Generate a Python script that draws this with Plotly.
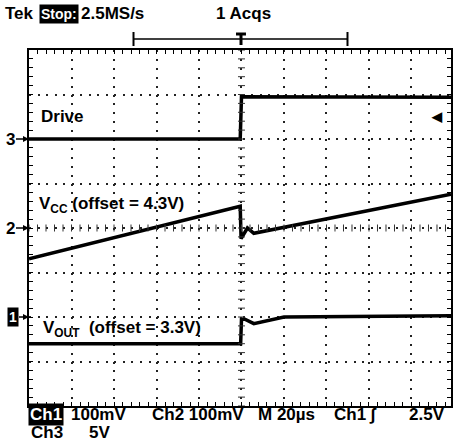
"""
Captura de osciloscopio: Drive, VCC y VOUT durante un escalón de carga
"""

import numpy as np
import plotly.graph_objects as go

# Datos (tiempo en µs, amplitud en divisiones)
drive_t = [0, 99.4, 100.0, 102.0, 198.6]
drive_v = [2.0, 2.0, 2.95, 2.95, 2.94]

vcc_t = [0, 99.4, 99.8, 102.8, 105.8, 198.6]
vcc_v = [-0.69, 0.49, -0.24, 0.0, -0.12, 0.76]

vout_t = [0, 99.6, 100.0, 101.6, 105.8, 120.0, 198.6]
vout_v = [-2.60, -2.60, -2.05, -2.05, -2.15, -2.0, -1.97]

# Marcadores de canal (nivel en divisiones)
canales = ["3", "2", "1"]
canal_nivel = [2.0, 0.0, -2.0]

# Geometría de la figura
ANCHO, ALTO = 453, 442
M_IZQ, M_SUP, M_INF = 29, 50, 36
W_PLOT = ANCHO - M_IZQ
H_PLOT = ALTO - M_SUP - M_INF
X_MAX = 20 * W_PLOT / 42.7

FUENTE = dict(family="Liberation Sans", size=17, color="black", weight="bold")


def px(x):
    return (x - M_IZQ) / W_PLOT


def py(y):
    return 1 - (y - M_SUP) / H_PLOT


fig = go.Figure()

for t, v in [(drive_t, drive_v), (vcc_t, vcc_v), (vout_t, vout_v)]:
    fig.add_trace(go.Scatter(
        x=t, y=v, mode="lines",
        line=dict(color="black", width=3.5),
        showlegend=False, hoverinfo="skip"
    ))

# Marcas finas sobre los ejes centrales de la retícula
marcas_y = np.arange(-4, 4.001, 0.2)
marcas_x = np.arange(0, X_MAX, 4)
fig.add_trace(go.Scatter(
    x=[100] * len(marcas_y), y=marcas_y, mode="markers",
    marker=dict(symbol="line-ew", size=5, line=dict(color="#333", width=1)),
    showlegend=False, hoverinfo="skip"
))
fig.add_trace(go.Scatter(
    x=marcas_x, y=[0] * len(marcas_x), mode="markers",
    marker=dict(symbol="line-ns", size=5, line=dict(color="#333", width=1)),
    showlegend=False, hoverinfo="skip"
))

anotaciones = []


def texto(s, x, y, fondo=None, color="black", tam=17):
    anotaciones.append(dict(
        text=s, x=px(x), y=py(y), xref="paper", yref="paper",
        xanchor="left", yanchor="middle", showarrow=False,
        font=dict(FUENTE, color=color, size=tam),
        bgcolor=fondo, borderpad=1 if fondo else 0
    ))


# Cabecera
texto("Tek", 4, 14)
texto("Stop:", 39, 14, fondo="black", color="white", tam=14)
texto("2.5MS/s", 80, 14)
texto("1 Acqs", 216, 14)

# Pie
texto("Ch1", 28, 415, fondo="black", color="white")
texto("100mV", 70, 415)
texto("Ch2 100mV", 152, 415)
texto("M 20µs", 258, 415)
texto("Ch1 ∫", 334, 415)
texto("2.5V", 410, 415)
texto("Ch3", 30, 433)
texto("5V", 88, 433)

# Etiquetas de las trazas
texto("Drive", 40, 116)
texto("V<sub>CC</sub> (offset = 4.3V)", 38, 205)
texto("V<sub>OUT</sub>  (offset = 3.3V)", 42, 329)

# Indicadores de canal a la izquierda
for nombre, nivel in zip(canales, canal_nivel):
    recuadro = nombre == "1"
    anotaciones.append(dict(
        text=nombre, x=0, y=nivel, xref="paper", yref="y",
        showarrow=True, ax=-10 if recuadro else -13, ay=0,
        arrowhead=2, arrowsize=0.8, arrowwidth=1.5, arrowcolor="black",
        xanchor="right", yanchor="middle",
        font=dict(FUENTE, color="white" if recuadro else "black", size=14 if recuadro else 17),
        bgcolor="black" if recuadro else None, borderpad=1 if recuadro else 0
    ))

# Nivel de disparo a la derecha
anotaciones.append(dict(
    text="◀", x=px(447), y=2.5, xref="paper", yref="y",
    showarrow=False, font=dict(FUENTE, size=13)
))

formas = [
    # barra de registro superior
    dict(type="line", xref="paper", yref="paper", x0=px(134), x1=px(349), y0=py(39), y1=py(39),
         line=dict(color="black", width=1.5)),
    dict(type="line", xref="paper", yref="paper", x0=px(134), x1=px(134), y0=py(32), y1=py(46),
         line=dict(color="black", width=2)),
    dict(type="line", xref="paper", yref="paper", x0=px(349), x1=px(349), y0=py(32), y1=py(46),
         line=dict(color="black", width=2)),
    # marca "T" del disparo sobre la barra
    dict(type="line", xref="paper", yref="paper", x0=px(237), x1=px(247), y0=py(34), y1=py(34),
         line=dict(color="black", width=3)),
    dict(type="line", xref="paper", yref="paper", x0=px(242), x1=px(242), y0=py(34), y1=py(45),
         line=dict(color="black", width=3)),
]

fig.update_layout(
    width=ANCHO, height=ALTO,
    margin=dict(l=M_IZQ, r=0, t=M_SUP, b=M_INF, pad=0),
    plot_bgcolor="white", paper_bgcolor="white",
    annotations=anotaciones, shapes=formas,
    showlegend=False
)

fig.update_xaxes(
    range=[0, X_MAX], dtick=20, showticklabels=False,
    showgrid=True, gridcolor="#222", gridwidth=2, griddash="2px,6.9px",
    zeroline=False, showline=True, linecolor="black", linewidth=2, mirror="ticks",
    ticks="inside", ticklen=4, tickcolor="black", tickwidth=1,
    minor=dict(dtick=4, ticks="inside", ticklen=4, tickcolor="black", tickwidth=1, showgrid=False)
)
fig.update_yaxes(
    range=[-4, 4], dtick=1, showticklabels=False,
    showgrid=True, gridcolor="#222", gridwidth=2, griddash="2px,6.54px",
    zeroline=False, showline=True, linecolor="black", linewidth=2, mirror="ticks",
    ticks="inside", ticklen=4, tickcolor="black", tickwidth=1,
    minor=dict(dtick=0.2, ticks="inside", ticklen=4, tickcolor="black", tickwidth=1, showgrid=False)
)

# El navegador añade 8px de margen al body; se anula para que la figura ocupe la ventana
fig.write_html(
    "out.html",
    config={"displayModeBar": False},
    post_script="document.body.style.margin='0';"
)
